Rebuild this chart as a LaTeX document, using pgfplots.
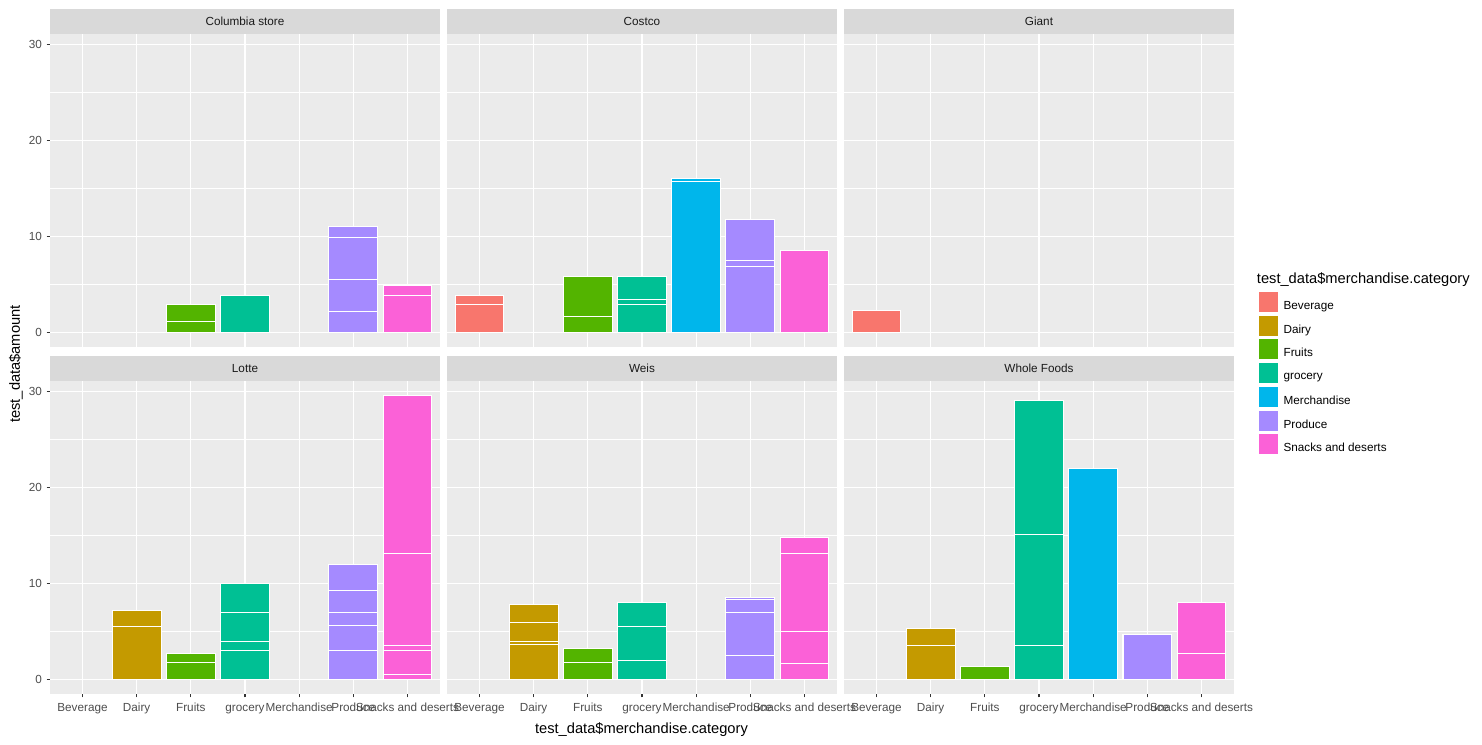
\documentclass[border=0pt]{standalone}
\usepackage{pgfplots}
\pgfplotsset{compat=1.18}
\usepackage{fontspec}
\setmainfont{Liberation Sans}
\definecolor{panelgrey}{HTML}{EBEBEB}
\definecolor{stripgrey}{HTML}{D9D9D9}
\definecolor{labelgrey}{HTML}{4D4D4D}
\definecolor{tickgrey}{HTML}{333333}
\definecolor{striptext}{HTML}{1A1A1A}
\definecolor{cBev}{HTML}{F8766D}
\definecolor{cDai}{HTML}{C49A00}
\definecolor{cFru}{HTML}{53B400}
\definecolor{cGro}{HTML}{00C094}
\definecolor{cMer}{HTML}{00B6EB}
\definecolor{cPro}{HTML}{A58AFF}
\definecolor{cSna}{HTML}{FB61D7}
\pgfplotsset{
  facet/.style={
    scale only axis, width=292.5pt, height=234.75pt,
    xmin=0.4, xmax=7.6, ymin=-1.48, ymax=31.08,
    enlargelimits=false,
    axis background/.style={fill=panelgrey},
    axis line style={draw=none},
    xmajorgrids=true, ymajorgrids=true, yminorgrids=true, xminorgrids=false,
    major grid style={white, line width=0.8pt},
    minor grid style={white, line width=0.4pt},
    xtick={1,2,3,4,5,6,7}, ytick={0,10,20,30}, minor ytick={5,15,25},
    tick pos=left, tick align=outside,
    major tick length=2.6pt, minor tick length=0pt,
    xtick style={color=tickgrey, line width=0.9pt},
    ytick style={color=tickgrey, line width=0.9pt},
    /pgf/number format/assume math mode=true,
    ticklabel style={font=\fontsize{8.8}{10}\selectfont, text=labelgrey},
    xticklabel style={text height=6.4pt, text depth=1.9pt, yshift=-0.5pt},
    ybar, bar width=0.9, bar shift=0pt,
    every axis plot/.append style={bar shift=0pt, draw=white, line width=0.8pt},
    title style={at={(0.5,1)}, anchor=south, yshift=-6pt, fill=stripgrey,
      minimum width=292.5pt, minimum height=18.75pt, inner sep=0pt,
      text=striptext, font=\fontsize{8.8}{10}\selectfont},
  },
  noxlab/.style={xticklabels={}, xtick style={draw=none}},
  noylab/.style={yticklabels={}, ytick style={draw=none}},
  withxlab/.style={xticklabels={Beverage,Dairy,Fruits,grocery,Merchandise,Produce,Snacks and deserts}},
  keyimg/.style={legend image code/.code={\fill[##1] (0pt,-4.7pt) rectangle (15pt,11pt);}},
}
\begin{document}
\begin{tikzpicture}
\useasboundingbox (0pt,0pt) rectangle (1111.5pt,558pt);
% Columbia store
\begin{axis}[facet, noxlab, at={(37.5pt,297.75pt)}, anchor=south west, title={Columbia store}]
\addplot[fill=cFru] coordinates {(3,2.9) (3,1.2)};
\addplot[fill=cGro] coordinates {(4,3.9)};
\addplot[fill=cPro] coordinates {(6,11.1) (6,9.9) (6,5.5) (6,2.2)};
\addplot[fill=cSna] coordinates {(7,4.9) (7,3.9)};
\end{axis}
% Costco
\begin{axis}[facet, noxlab, noylab, at={(335.25pt,297.75pt)}, anchor=south west, title={Costco}]
\addplot[fill=cBev] coordinates {(1,3.9) (1,2.9)};
\addplot[fill=cFru] coordinates {(3,5.9) (3,1.7)};
\addplot[fill=cGro] coordinates {(4,5.9) (4,3.5) (4,2.9)};
\addplot[fill=cMer] coordinates {(5,16.0) (5,15.7)};
\addplot[fill=cPro] coordinates {(6,11.8) (6,7.5) (6,6.9)};
\addplot[fill=cSna] coordinates {(7,8.55)};
\end{axis}
% Giant
\begin{axis}[facet, noxlab, noylab, at={(633pt,297.75pt)}, anchor=south west, title={Giant},
  legend style={at={(1.0615,0.1799)}, anchor=north west, draw=none, fill=none,
    inner sep=0pt, row sep=1.3pt, font=\fontsize{8.8}{10}\selectfont,
    nodes={inner sep=0pt, text=black},
    /tikz/every odd column/.append style={column sep=3.2pt}},
  legend cell align=left]
\addplot[fill=cBev, forget plot] coordinates {(1,2.3)};
\addlegendimage{keyimg, fill=cBev}
\addlegendentry{Beverage}
\addlegendimage{keyimg, fill=cDai}
\addlegendentry{Dairy}
\addlegendimage{keyimg, fill=cFru}
\addlegendentry{Fruits}
\addlegendimage{keyimg, fill=cGro}
\addlegendentry{grocery}
\addlegendimage{keyimg, fill=cMer}
\addlegendentry{Merchandise}
\addlegendimage{keyimg, fill=cPro}
\addlegendentry{Produce}
\addlegendimage{keyimg, fill=cSna}
\addlegendentry{Snacks and deserts}
\end{axis}
% Lotte
\begin{axis}[facet, withxlab, at={(37.5pt,37.5pt)}, anchor=south west, title={Lotte}]
\addplot[fill=cDai] coordinates {(2,7.2) (2,5.5)};
\addplot[fill=cFru] coordinates {(3,2.75) (3,1.8)};
\addplot[fill=cGro] coordinates {(4,10.0) (4,7.0) (4,4.0) (4,3.0)};
\addplot[fill=cPro] coordinates {(6,12.0) (6,9.25) (6,6.95) (6,5.65) (6,3.0)};
\addplot[fill=cSna] coordinates {(7,29.6) (7,13.1) (7,3.6) (7,3.05) (7,0.55)};
\end{axis}
% Weis
\begin{axis}[facet, withxlab, noylab, at={(335.25pt,37.5pt)}, anchor=south west, title={Weis}]
\addplot[fill=cDai] coordinates {(2,7.85) (2,6.0) (2,4.0) (2,3.7)};
\addplot[fill=cFru] coordinates {(3,3.3) (3,1.8)};
\addplot[fill=cGro] coordinates {(4,8.05) (4,5.55) (4,2.0)};
\addplot[fill=cPro] coordinates {(6,8.55) (6,8.35) (6,6.95) (6,2.5)};
\addplot[fill=cSna] coordinates {(7,14.8) (7,13.1) (7,5.0) (7,1.65)};
\end{axis}
% Whole Foods
\begin{axis}[facet, withxlab, noylab, at={(633pt,37.5pt)}, anchor=south west, title={Whole Foods}]
\addplot[fill=cDai] coordinates {(2,5.3) (2,3.6)};
\addplot[fill=cFru] coordinates {(3,1.4)};
\addplot[fill=cGro] coordinates {(4,29.05) (4,15.1) (4,3.6)};
\addplot[fill=cMer] coordinates {(5,22.0)};
\addplot[fill=cPro] coordinates {(6,4.7)};
\addplot[fill=cSna] coordinates {(7,8.05) (7,2.7)};
\end{axis}
\node[anchor=base, font=\fontsize{11}{13}\selectfont, inner sep=0pt] at (481.1pt,8.25pt) {test\_data\$merchandise.category};
\node[rotate=90, font=\fontsize{11}{13}\selectfont, inner sep=0pt] at (12pt,285pt) {test\_data\$amount};
\node[anchor=base west, font=\fontsize{11}{13}\selectfont, inner sep=0pt] at (942.5pt,345pt) {test\_data\$merchandise.category};
\end{tikzpicture}
\end{document}
